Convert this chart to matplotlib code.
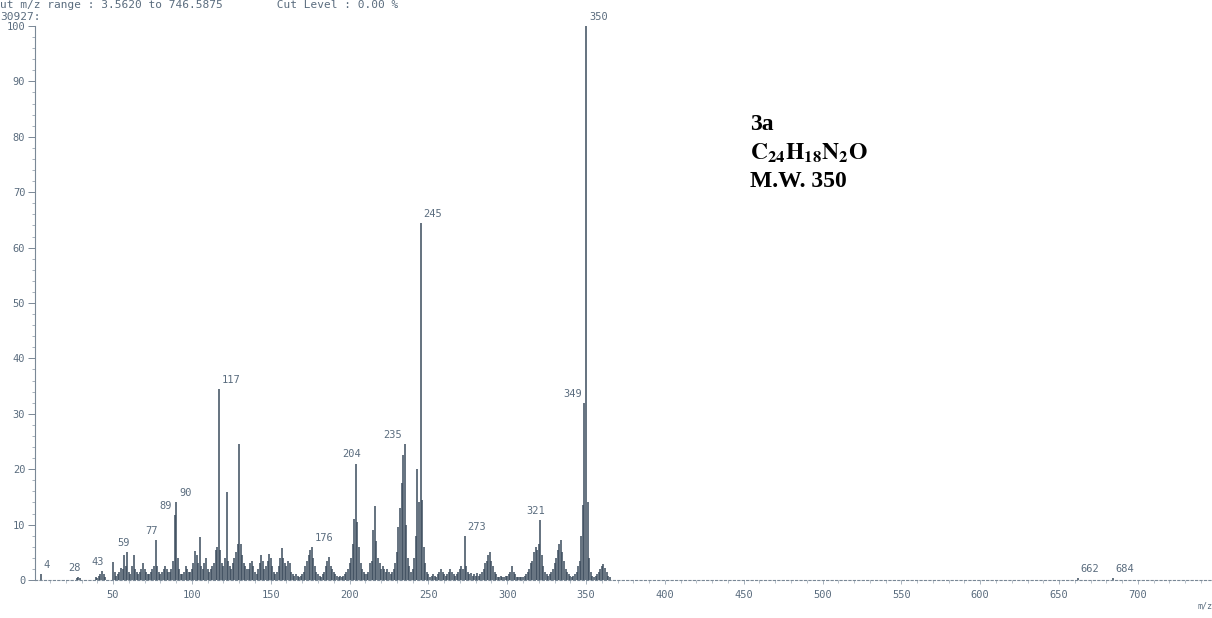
import numpy as np
import matplotlib
matplotlib.use('Agg')
import matplotlib.pyplot as plt
from matplotlib.ticker import MultipleLocator

# runs of consecutive nominal masses: first m/z of the run and the
# relative intensities (%)
run_start = [4, 27, 39, 50, 55, 66, 73, 80, 94, 111, 126, 136, 142, 153, 165,
             171, 181, 196, 211, 226, 240, 251, 267, 283, 294, 315, 326, 340,
             355, 662, 684]
run_int = [
    [1.0],
    [0.3, 0.6, 0.3],
    [0.5, 0.4, 0.8, 1.0, 1.6, 1.0, 0.6],
    [3.2, 1.5, 0.8, 1.0, 1.5],
    [2.2, 2.0, 4.5, 2.5, 5.0, 1.5, 1.0, 2.5, 4.5, 2.0, 1.5],
    [1.0, 1.5, 2.0, 3.0, 2.0, 1.5, 1.0],
    [1.0, 1.5, 2.0, 2.5, 7.2, 2.5, 1.5],
    [1.0, 1.5, 2.0, 2.5, 2.0, 1.5, 1.5, 2.0, 3.5, 11.7, 14.0, 4.0, 2.0, 1.0],
    [1.0, 1.5, 2.5, 2.0, 1.5, 1.5, 2.0, 3.0, 5.2, 4.5, 3.0, 7.7, 2.5, 2.0, 3.0, 4.0, 2.0],
    [1.5, 2.0, 2.5, 3.0, 5.5, 6.0, 34.5, 5.5, 3.0, 2.5, 4.0, 15.8, 3.5, 2.5, 2.0],
    [3.0, 4.0, 5.0, 6.5, 24.5, 6.5, 4.5, 3.0, 2.5, 2.0],
    [2.0, 3.0, 3.5, 2.5, 1.5, 1.0],
    [2.0, 3.0, 4.5, 3.5, 2.0, 2.5, 3.5, 4.7, 4.0, 2.5, 1.5],
    [1.0, 1.5, 2.5, 4.0, 5.8, 4.0, 3.0, 2.5, 3.5, 3.0, 1.5, 1.0],
    [0.8, 1.0, 0.8, 0.6, 0.8, 1.0],
    [1.5, 2.5, 3.5, 4.5, 5.5, 6.0, 4.0, 2.5, 1.5, 1.0],
    [0.8, 0.6, 1.0, 1.5, 2.5, 3.5, 4.2, 2.5, 2.0, 1.5, 1.0, 0.8, 0.6, 0.8, 0.6],
    [0.8, 1.0, 1.5, 2.0, 3.0, 4.0, 6.5, 11.0, 21.0, 10.5, 6.0, 3.0, 2.0, 1.5, 1.0],
    [1.0, 1.5, 3.0, 3.5, 9.0, 13.3, 7.0, 4.0, 3.0, 2.0, 2.5, 2.0, 1.5, 2.0, 1.5],
    [1.0, 1.5, 2.0, 3.0, 5.0, 9.5, 13.0, 17.5, 22.5, 24.5, 10.0, 4.0, 2.5, 1.5],
    [2.0, 4.0, 8.0, 20.0, 14.0, 64.5, 14.5, 6.0, 3.0, 1.5, 1.0],
    [0.6, 0.8, 1.0, 0.8, 0.6, 1.0, 1.5, 2.0, 1.5, 1.0, 0.8, 1.0, 1.5, 2.0, 1.5, 1.0],
    [0.8, 1.0, 1.5, 2.0, 2.5, 2.0, 8.0, 2.5, 1.5, 1.0, 1.2, 0.8, 1.0, 0.8, 1.2, 0.8],
    [1.0, 1.5, 2.0, 3.0, 3.5, 4.5, 5.0, 3.5, 2.5, 1.5, 1.0],
    [0.6, 0.5, 0.8, 0.6, 0.5, 0.7, 0.8, 1.0, 1.5, 2.5, 1.5, 1.0, 0.6, 0.5, 0.6,
     0.5, 0.6, 0.8, 1.0, 1.5, 2.0],
    [3.0, 3.5, 5.0, 6.0, 5.5, 6.5, 10.8, 4.5, 2.5, 1.5, 1.0],
    [0.8, 1.0, 1.5, 2.0, 3.0, 4.0, 5.5, 6.5, 7.3, 5.0, 3.5, 2.0, 1.5, 1.0],
    [0.8, 0.6, 0.8, 1.0, 1.5, 2.5, 3.5, 8.0, 13.5, 32.0, 100.0, 14.0, 4.0, 1.5, 0.8],
    [0.6, 0.8, 1.0, 1.5, 2.0, 2.5, 2.8, 2.2, 1.5, 0.8, 0.5],
    [0.4],
    [0.3],
]

# labelled peaks and which side the label sits on
label_mz = [4, 28, 43, 59, 77, 89, 90, 117, 176, 204, 235, 245, 273, 321, 349, 350, 662, 684]
label_side = ['r', 'c', 'c', 'c', 'c', 'l', 'r', 'r', 'r', 'c', 'l', 'r', 'r', 'c', 'l', 'r', 'r', 'r']

mz, inten = [], []
for start, vals in zip(run_start, run_int):
    for i, v in enumerate(vals):
        mz.append(start + i)
        inten.append(v)
mz = np.array(mz)
inten = np.array(inten)

ink = '#3b4b5c'
txt = '#5a6c7e'
mono = 'DejaVu Sans Mono'
fs = 7.5

fig = plt.figure(figsize=(12.12, 6.18), dpi=100, facecolor='white')
ax = fig.add_axes([35 / 1212, 38 / 618, 1 - 35 / 1212, 554 / 618])

ax.vlines(mz, 0, inten, color=ink, linewidth=1.1)

ax.set_xlim(0.5, 747)
ax.set_ylim(0, 100)

for s in ['top', 'right']:
    ax.spines[s].set_visible(False)
ax.spines['left'].set_color('#7a8896')
ax.spines['left'].set_linewidth(0.8)
ax.spines['bottom'].set_color('#7a8896')
ax.spines['bottom'].set_linewidth(0.8)
ax.spines['bottom'].set_linestyle((0, (2, 2)))

ax.yaxis.set_major_locator(MultipleLocator(10))
ax.yaxis.set_minor_locator(MultipleLocator(2))
ax.xaxis.set_minor_locator(MultipleLocator(10))
ax.set_xticks(np.arange(50, 747, 50))
ax.tick_params(axis='y', which='major', length=5, width=0.7, color='#7a8896',
               labelsize=fs, labelcolor=txt, pad=2)
ax.tick_params(axis='y', which='minor', length=2, width=0.6, color='#9aa6b2')
ax.tick_params(axis='x', which='major', length=3, width=0.6, color='#9aa6b2',
               labelsize=fs, labelcolor=txt, pad=4)
ax.tick_params(axis='x', which='minor', length=2, width=0.5, color='#9aa6b2')
for lab in ax.get_xticklabels() + ax.get_yticklabels():
    lab.set_family(mono)

# peak labels
peak_h = dict(zip(mz, inten))
for m, side in zip(label_mz, label_side):
    h = peak_h.get(m, 0.5)
    if side == 'r':
        ax.annotate(str(m), (m, h), xytext=(2, 3), textcoords='offset points',
                    ha='left', va='bottom', fontsize=fs, color=txt, family=mono)
    elif side == 'l':
        ax.annotate(str(m), (m, h), xytext=(-2, 3), textcoords='offset points',
                    ha='right', va='bottom', fontsize=fs, color=txt, family=mono)
    else:
        ax.annotate(str(m), (m, h), xytext=(-3, 3), textcoords='offset points',
                    ha='center', va='bottom', fontsize=fs, color=txt, family=mono)

# scan header and axis caption
fig.text(0.0, 1.0, 'ut m/z range : 3.5620 to 746.5875        Cut Level : 0.00 %',
         ha='left', va='top', fontsize=8, color=txt, family=mono)
fig.text(0.0, 0.981, '30927:', ha='left', va='top', fontsize=8, color=txt, family=mono)
fig.text(1197 / 1212, 0.012, 'm/z', ha='left', va='bottom', fontsize=6, color=txt, family=mono)

# compound annotation
plt.rcParams['mathtext.fontset'] = 'stix'
fig.text(750 / 1212, 1 - 124 / 618, '3a', fontsize=17, fontweight='bold',
         family='Liberation Serif', va='center', ha='left')
fig.text(750 / 1212, 1 - 153 / 618, r'$\mathbf{C_{24}H_{18}N_{2}O}$', fontsize=17,
         va='center', ha='left')
fig.text(750 / 1212, 1 - 182 / 618, 'M.W. 350', fontsize=17, fontweight='bold',
         family='Liberation Serif', va='center', ha='left')

fig.savefig('out.png', dpi=100, facecolor='white')
plt.close()
